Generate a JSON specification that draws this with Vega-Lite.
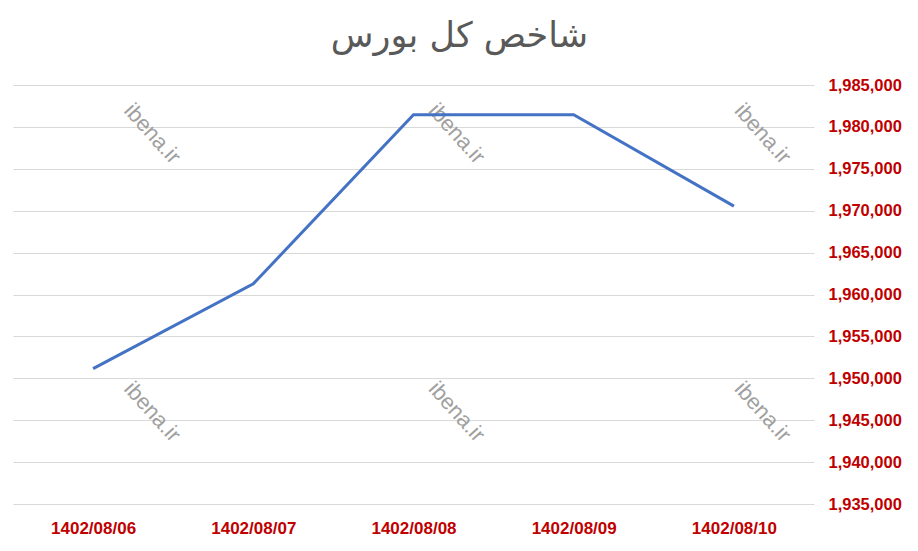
{
  "$schema": "https://vega.github.io/schema/vega-lite/v6.json",
  "width": 801,
  "height": 419,
  "autosize": {"type": "none"},
  "padding": {"left": 13, "top": 85, "right": 104, "bottom": 47},
  "background": "white",
  "title": {
    "text": "شاخص کل بورس",
    "font": "DejaVu Sans",
    "fontSize": 35,
    "fontWeight": "normal",
    "color": "#595959",
    "anchor": "middle",
    "dx": 46,
    "offset": 23
  },
  "datasets": {
    "index": [
      {"date": "1402/08/06", "v": 1951150},
      {"date": "1402/08/07", "v": 1961270},
      {"date": "1402/08/08", "v": 1981460},
      {"date": "1402/08/09", "v": 1981460},
      {"date": "1402/08/10", "v": 1970550}
    ],
    "watermark": [
      {"wx": 0.87, "v": 1979200, "t": "ibena.ir"},
      {"wx": 2.77, "v": 1979200, "t": "ibena.ir"},
      {"wx": 4.68, "v": 1979200, "t": "ibena.ir"},
      {"wx": 0.87, "v": 1946000, "t": "ibena.ir"},
      {"wx": 2.77, "v": 1946000, "t": "ibena.ir"},
      {"wx": 4.68, "v": 1946000, "t": "ibena.ir"}
    ]
  },
  "encoding": {
    "y": {
      "field": "v",
      "type": "quantitative",
      "scale": {"domain": [1935000, 1985000], "nice": false, "zero": false},
      "axis": {
        "orient": "right",
        "values": [1935000, 1940000, 1945000, 1950000, 1955000, 1960000, 1965000, 1970000, 1975000, 1980000, 1985000],
        "format": ",.0f",
        "title": null,
        "domain": false,
        "ticks": false,
        "labelFont": "Liberation Sans",
        "labelFontWeight": "bold",
        "labelFontSize": 16.5,
        "labelColor": "#C00000",
        "labelPadding": 14,
        "gridColor": "#d9d9d9",
        "gridWidth": 1
      }
    }
  },
  "layer": [
    {
      "data": {"name": "watermark"},
      "mark": {"type": "text", "angle": 48, "fontSize": 22, "font": "Liberation Sans", "color": "#a0a0a0"},
      "encoding": {
        "x": {"field": "wx", "type": "quantitative", "scale": {"domain": [0, 5]}, "axis": null},
        "text": {"field": "t", "type": "nominal"}
      }
    },
    {
      "data": {"name": "index"},
      "mark": {"type": "line", "color": "#4472C4", "strokeWidth": 3},
      "encoding": {
        "x": {
          "field": "date",
          "type": "ordinal",
          "scale": {"type": "point", "padding": 0.5},
          "axis": {
            "title": null,
            "labelAngle": 0,
            "domain": false,
            "ticks": false,
            "grid": false,
            "labelFont": "Liberation Sans",
            "labelFontWeight": "bold",
            "labelFontSize": 17,
            "labelColor": "#C00000",
            "labelPadding": 16
          }
        }
      }
    }
  ],
  "resolve": {"scale": {"x": "independent"}},
  "config": {"view": {"stroke": null}}
}
